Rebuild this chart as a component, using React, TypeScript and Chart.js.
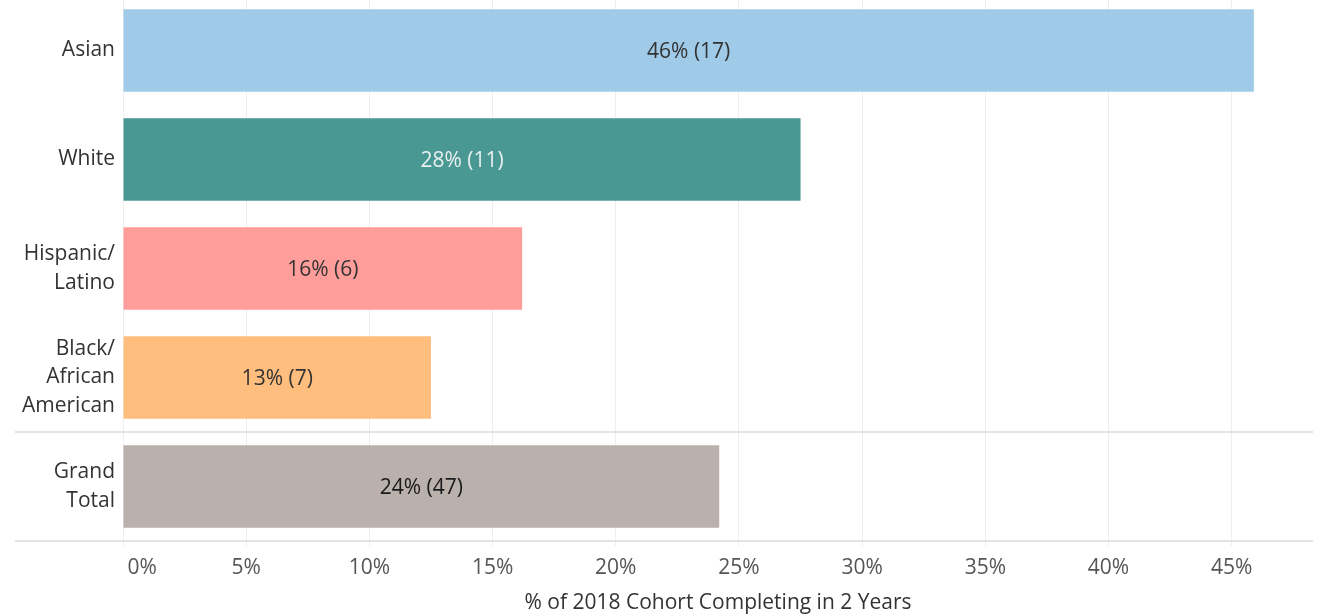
import React, { useEffect, useRef } from "react";
import { Chart, registerables } from "chart.js";

Chart.register(...registerables);

const categories: (string | string[])[] = [
  "Asian",
  "White",
  ["Hispanic/", "Latino"],
  ["Black/", "African", "American"],
  ["Grand", "Total"],
];
const percentValues = [45.9, 27.5, 16.2, 12.5, 24.2];
const counts = [17, 11, 6, 7, 47];
const xTickValues = [0, 5, 10, 15, 20, 25, 30, 35, 40, 45];
const axisTitle = "% of 2018 Cohort Completing in 2 Years";

const barColors = ["#A0CBE8", "#499894", "#FF9D9A", "#FFBE7D", "#BAB0AC"];
const labelColors = ["#333333", "#E8EFEE", "#333333", "#333333", "#1A1A1A"];
const FONT = "'Open Sans', 'Noto Sans', sans-serif";
const FS = 21;

const barLabelPlugin = {
  id: "barLabels",
  afterDatasetsDraw(chart: any) {
    const ctx = chart.ctx;
    const meta = chart.getDatasetMeta(0);
    ctx.save();
    ctx.textAlign = "center";
    ctx.textBaseline = "middle";
    meta.data.forEach((bar: any, i: number) => {
      const v = percentValues[i];
      const text = `${Math.round(v)}% (${counts[i]})`;
      const cx = (bar.x + bar.base) / 2;
      ctx.font = `${i === 4 ? "500 " : ""}${FS}px ${FONT}`;
      ctx.fillStyle = labelColors[i];
      ctx.fillText(text, cx, bar.y + 2);
    });
    ctx.restore();
  },
};

export default function App() {
  const ref = useRef<HTMLCanvasElement | null>(null);

  useEffect(() => {
    if (!ref.current) return;
    const chart = new Chart(ref.current, {
      type: "bar",
      data: {
        labels: categories as any,
        datasets: [
          {
            data: percentValues,
            backgroundColor: barColors,
            borderWidth: 0,
            barPercentage: 0.757,
            categoryPercentage: 1,
          },
        ],
      },
      plugins: [barLabelPlugin],
      options: {
        indexAxis: "y",
        animation: false,
        responsive: false,
        maintainAspectRatio: false,
        layout: { padding: { left: 0, right: 5, top: 0, bottom: 0 } },
        plugins: {
          legend: { display: false },
          tooltip: { enabled: false },
        },
        scales: {
          x: {
            type: "linear",
            min: 0,
            max: 48.3,
            afterFit: (scale: any) => {
              scale.height = 75;
            },
            afterBuildTicks: (scale: any) => {
              scale.ticks = xTickValues.map((v) => ({ value: v }));
            },
            ticks: {
              stepSize: 5,
              includeBounds: false,
              padding: 9,
              color: "#555555",
              font: { family: FONT, size: FS },
              maxRotation: 0,
              callback: (v: any) =>
                Number(v) === 0 ? "       0%" : `${v}%`,
            },
            grid: {
              color: "#EEEEEE",
              lineWidth: 1,
              drawTicks: true,
              tickLength: 5,
              tickColor: "#EEEEEE",
            },
            border: { display: false },
            title: {
              display: true,
              text: axisTitle,
              color: "#333333",
              font: { family: FONT, size: FS },
              padding: { top: 0, bottom: 0 },
            },
          },
          y: {
            type: "category",
            afterFit: (scale: any) => {
              scale.width = 123;
            },
            ticks: {
              padding: -100,
              color: "#333333",
              font: { family: FONT, size: FS, lineHeight: 1.38 },
            },
            grid: {
              offset: true,
              drawTicks: true,
              tickLength: 108,
              lineWidth: 2,
              color: (c: any) =>
                c.type !== "tick" || c.index === 4 ? "#E3E3E3" : "rgba(0,0,0,0)",
              tickColor: (c: any) =>
                c.type !== "tick" || c.index === 4 ? "#E3E3E3" : "rgba(0,0,0,0)",
            },
            border: { display: false },
          },
        },
      } as any,
    });
    return () => chart.destroy();
  }, []);

  return (
    <div
      style={{
        position: "absolute",
        left: 0,
        top: -4,
        width: 1318,
        height: 620,
        background: "#ffffff",
      }}
    >
      <canvas ref={ref} width={1318} height={620} style={{ display: "block" }} />
    </div>
  );
}
